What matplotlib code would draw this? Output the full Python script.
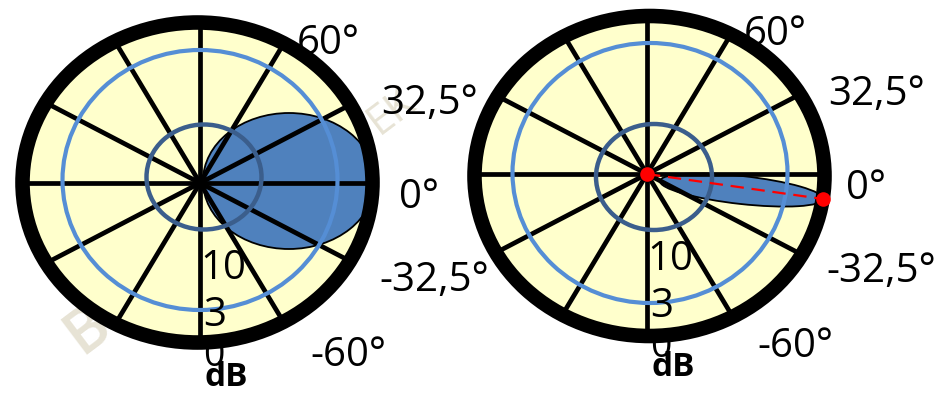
import numpy as np
import matplotlib
matplotlib.use("Agg")
import matplotlib.pyplot as plt
from matplotlib.patches import Ellipse

# ---- content -------------------------------------------------------------
angle_labels = ["60°", "32,5°", "0°", "-32,5°", "-60°"]
db_labels = ["10", "3", "0"]
db_unit = "dB"
spoke_angles = [0, 27.5, 59, 90, 121, 152.5, 180, 207.5, 239, 270, 301, 332.5]

# lobe of each pattern: start offset, reach, width (px) and tilt (deg, clockwise)
lobe_start = [(3, -2), (13, 7)]
lobe_reach = [172, 164]
lobe_width = [136, 28]
lobe_tilt = [0, 6.3]
# beam-direction marker on the narrow pattern
beam_marker_end = [(176, 25)]

# ---- layout --------------------------------------------------------------
W, H = 943, 393
centers = [(200, 183), (647, 174)]
ring_offsets = [(-2.5, -0.5), (2.5, 2.0)]
ring_r = (175, 160)
outer_circle = [((0, -3), (275, 260)), ((3, -1), (275, 260))]
inner_circle = [((4, -6), (115, 105)), ((7, 3), (116, 106))]

label_offsets = [(128, -139), (230, -79), (219, 15), (234, 98), (148, 173)]
db_offsets = [(23, 86), (15, 133), (14, 173)]
unit_offset = (26, 194)

YELLOW = "#FFFFCC"
LOBE = "#4F81BD"
LIGHT = "#558ED5"
DARK = "#3B5E8C"
RED = "#FF0000"
WATER = "#E7E3D5"
FONT = ["Open Sans", "DejaVu Sans"]

fig = plt.figure(figsize=(W / 100, H / 100), dpi=100)
ax = fig.add_axes([0, 0, 1, 1])
ax.set_xlim(0, W)
ax.set_ylim(H, 0)
ax.axis("off")

# faint watermark behind everything
ax.text(88, 330, "B", rotation=37, fontsize=44, color=WATER, family=FONT,
        fontweight="semibold", ha="center", va="center", zorder=0)
ax.text(392, 112, "EK", rotation=37, fontsize=30, color=WATER, family=FONT,
        ha="center", va="center", zorder=0)

for i, (cx, cy) in enumerate(centers):
    rx0, ry0 = cx + ring_offsets[i][0], cy + ring_offsets[i][1]

    face = Ellipse((rx0, ry0), 2 * ring_r[0], 2 * ring_r[1],
                   facecolor=YELLOW, edgecolor="none", zorder=1)
    ax.add_patch(face)

    # radiation lobe, starting at the pattern origin
    t = np.deg2rad(lobe_tilt[i])
    half = lobe_reach[i] / 2
    sx, sy = lobe_start[i]
    lx = cx + sx + half * np.cos(t)
    ly = cy + sy + half * np.sin(t)
    lobe = Ellipse((lx, ly), lobe_reach[i], lobe_width[i], angle=lobe_tilt[i],
                   facecolor=LOBE, edgecolor="black", lw=1.3, zorder=2)
    ax.add_patch(lobe)
    lobe.set_clip_path(face)

    # spokes
    for a in spoke_angles:
        r = np.deg2rad(a)
        ln, = ax.plot([cx, cx + 400 * np.cos(r)], [cy, cy - 400 * np.sin(r)],
                      color="black", lw=3.4, zorder=3, solid_capstyle="butt")
        ln.set_clip_path(face)

    # level circles
    (ox, oy), (ow, oh) = outer_circle[i]
    ax.add_patch(Ellipse((cx + ox, cy + oy), ow, oh, fill=False,
                         edgecolor=LIGHT, lw=3.0, zorder=4))
    (ix, iy), (iw, ih) = inner_circle[i]
    ax.add_patch(Ellipse((cx + ix, cy + iy), iw, ih, fill=False,
                         edgecolor=DARK, lw=3.2, zorder=4))

    # "0" level sits under the rim
    ax.text(cx + db_offsets[2][0], cy + db_offsets[2][1], db_labels[2],
            fontsize=27, family=FONT, ha="center", va="center",
            color="black", zorder=4.5)

    # outer rim
    ax.add_patch(Ellipse((rx0, ry0), 2 * ring_r[0], 2 * ring_r[1], fill=False,
                         edgecolor="black", lw=10.5, zorder=5))

    # scale labels
    for lab, (dx, dy) in zip(db_labels[:2], db_offsets[:2]):
        ax.text(cx + dx, cy + dy, lab, fontsize=29, family=FONT,
                ha="center", va="center", color="black", zorder=7)
    ax.text(cx + unit_offset[0], cy + unit_offset[1], db_unit, fontsize=24,
            family=FONT, fontweight="bold", ha="center", va="center",
            color="black", zorder=7)

    # angle labels
    for lab, (dx, dy) in zip(angle_labels, label_offsets):
        ax.text(cx + dx, cy + dy, lab, fontsize=29, family=FONT,
                ha="center", va="center", color="black", zorder=7)

# beam direction of the narrow pattern
cx, cy = centers[1]
for ex, ey in beam_marker_end:
    ax.plot([cx, cx + ex], [cy, cy + ey], color=RED, lw=1.6,
            dashes=(6, 3.5), zorder=6)
    ax.plot([cx, cx + ex], [cy, cy + ey], "o", color=RED, ms=10.5,
            mec="none", zorder=6.5)

fig.savefig("out.png", dpi=100)
